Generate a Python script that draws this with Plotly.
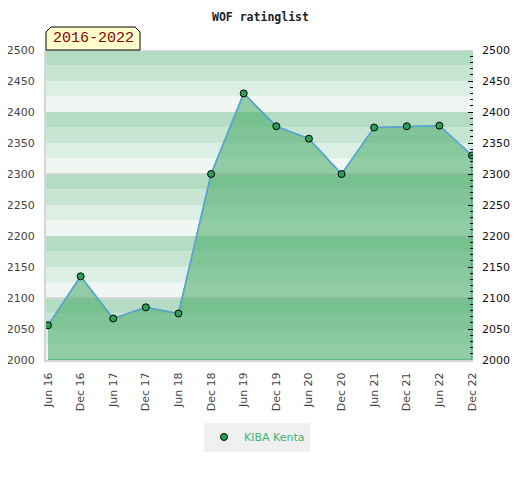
import plotly.graph_objects as go

# ratings by half year
periods = ["Jun 16", "Dec 16", "Jun 17", "Dec 17", "Jun 18", "Dec 18", "Jun 19",
           "Dec 19", "Jun 20", "Dec 20", "Jun 21", "Dec 21", "Jun 22", "Dec 22"]
ratings = [2056, 2135, 2067, 2085, 2075, 2300, 2430,
           2377, 2357, 2300, 2375, 2377, 2378, 2330]
player = "KIBA Kenta"
title = "WOF ratinglist"
span_label = "2016-2022"

y_min, y_max = 2000, 2500
ytick_vals = list(range(2000, 2501, 50))

# page body has an 8px margin, so the figure is drawn 8px smaller and shifted
OFF = 8
W, H = 520 - OFF, 480 - OFF
L, T = 46 - OFF, 50 - OFF
pw, ph = 427, 310
R, B = W - L - pw, H - T - ph

idx = list(range(len(periods)))

fig = go.Figure()

# striped background, 25 points per band
band_cols = ["#f0f7f2", "#dcefe4", "#c8e5d4", "#b3dcc3"]
shapes = []
for i, lo in enumerate(range(y_min, y_max, 25)):
    shapes.append(dict(type="rect", xref="paper", yref="y", x0=0, x1=1, y0=lo, y1=lo + 25,
                       fillcolor=band_cols[i % 4], line_width=0, layer="below"))
for g in (2100, 2300, 2500):
    shapes.append(dict(type="line", xref="paper", yref="y", x0=0, x1=1, y0=g, y1=g,
                       line=dict(color="#d6d6d6", width=2), layer="below"))

# label box with clipped top corners
bx1 = 94 / pw
by1 = 23 / ph
cx, cy = 5 / pw, 5 / ph
shapes.append(dict(type="path", xref="paper", yref="paper",
                   path=f"M 0 1 L 0 {1+by1-cy} L {cx} {1+by1} L {bx1-cx} {1+by1} "
                        f"L {bx1} {1+by1-cy} L {bx1} 1 Z",
                   fillcolor="#ffffcc", line=dict(color="#000000", width=1)))

# area under the line
fig.add_trace(go.Scatter(
    x=idx + [idx[-1], idx[0]], y=ratings + [y_min, y_min],
    fill="toself", fillcolor="rgba(70,170,100,0.55)", mode="lines",
    line=dict(color="#2eaa55", width=1.2), hoverinfo="skip", showlegend=False))

fig.add_trace(go.Scatter(
    x=idx, y=ratings, mode="lines+markers", name=player, showlegend=False,
    line=dict(color="#5ba3dc", width=1.5),
    marker=dict(size=7, color="#2e9e58", line=dict(color="#000000", width=1))))

# legend entry: marker only
fig.add_trace(go.Scatter(
    x=[None], y=[None], mode="markers", name=player,
    marker=dict(size=7, color="#2e9e58", line=dict(color="#000000", width=1))))

# right axis (ticks only)
fig.add_trace(go.Scatter(x=[idx[0]], y=[y_min], yaxis="y2", mode="markers",
                         marker=dict(opacity=0), hoverinfo="skip", showlegend=False))

fig.update_layout(
    width=W, height=H,
    margin=dict(l=L, r=R, t=T, b=B, autoexpand=False),
    paper_bgcolor="white", plot_bgcolor="white",
    shapes=shapes,
    xaxis=dict(range=[-2 / 32.6, len(periods) - 1 + 1 / 32.6], automargin=False,
               tickvals=idx, ticktext=periods, tickangle=-90,
               ticks="outside", ticklen=6, tickcolor="rgba(0,0,0,0)",
               showgrid=False, zeroline=False, showline=True, linecolor="#d6d6d6", linewidth=2,
               tickfont=dict(family="DejaVu Sans", size=11, color="#444444")),
    yaxis=dict(range=[y_min, y_max], tickvals=ytick_vals, showgrid=False, zeroline=False,
               automargin=False,
               showline=True, linecolor="#d6d6d6", linewidth=2, ticks="",
               ticklabelstandoff=7,
               tickfont=dict(family="DejaVu Sans", size=11, color="#444444")),
    yaxis2=dict(range=[y_min, y_max], tickvals=ytick_vals, overlaying="y", side="right",
                automargin=False,
                showgrid=False, zeroline=False, showline=False,
                ticks="inside", ticklen=5, tickcolor="#000000", tickwidth=1,
                minor=dict(dtick=10, ticks="inside", ticklen=3, tickcolor="#000000"),
                ticklabelstandoff=8,
                tickfont=dict(family="DejaVu Sans", size=11, color="#111111")),
    legend=dict(orientation="h", x=(204 - 46) / pw, xanchor="left",
                y=-(437 - 360) / ph, yanchor="middle",
                bgcolor="#f0f0f0", font=dict(family="DejaVu Sans", size=11, color="#3cb371"),
                itemwidth=30),
    annotations=[
        dict(text=span_label, xref="paper", yref="paper",
             x=bx1 / 2, y=1 + by1 / 2, xanchor="center", yanchor="middle",
             showarrow=False,
             font=dict(family="Liberation Mono", size=15, color="#8b0000")),
        dict(text=f"<b>{title}</b>", xref="paper", yref="paper",
             x=(260 - 46) / pw, y=1 + (T - 9) / ph, xanchor="center", yanchor="middle",
             showarrow=False,
             font=dict(family="DejaVu Sans Mono", size=11.5, color="#222222")),
    ],
)

fig.write_html("out.html")
